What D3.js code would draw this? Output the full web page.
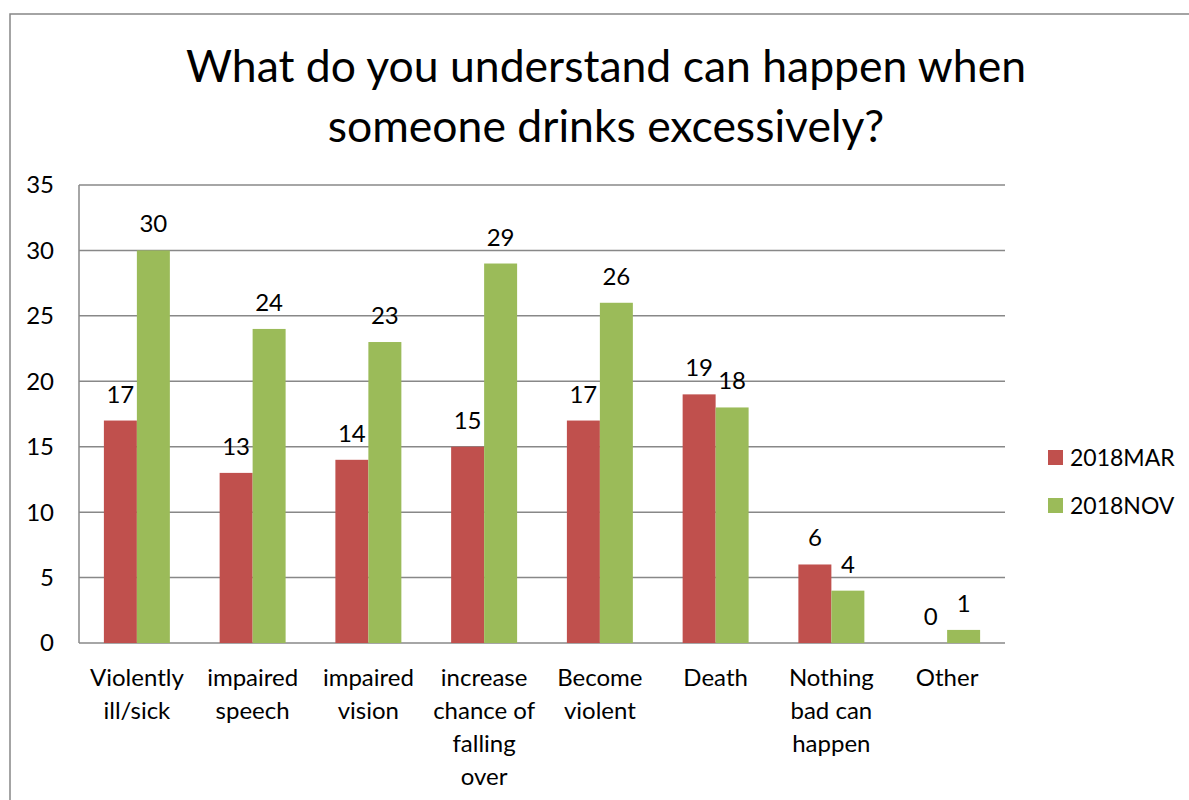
<!DOCTYPE html>
<html><head><meta charset="utf-8">
<script src="https://cdn.jsdelivr.net/npm/d3@7"></script>
<style>html,body{margin:0;padding:0;background:#fff;}svg{display:block;font-family:Lato,"Open Sans",sans-serif;}</style>
</head><body>
<script>
const categories = ["Violently ill/sick","impaired speech","impaired vision","increase chance of falling over","Become violent","Death","Nothing bad can happen","Other"];
const categoryLines = [["Violently","ill/sick"],["impaired","speech"],["impaired","vision"],["increase","chance of","falling","over"],["Become","violent"],["Death"],["Nothing","bad can","happen"],["Other"]];
const seriesNames = ["2018MAR","2018NOV"];
const mar = [17,13,14,15,17,19,6,0];
const nov = [30,24,23,29,26,18,4,1];
const yTicks = [0,5,10,15,20,25,30,35];
const titleLines = ["What do you understand can happen when","someone drinks excessively?"];
const colors = ["#C0504D","#9BBB59"];

(function(){
const W=1189,H=800;
const svg=d3.select("body").append("svg").attr("width",W).attr("height",H);
svg.append("rect").attr("x",10).attr("y",14).attr("width",W).attr("height",H).attr("fill","#fff").attr("stroke","#878787").attr("stroke-width",1.5);

const pL=79,pR=1005,pT=185,pB=643;
const x=d3.scaleBand().domain(categories).range([pL,pR]).paddingInner(0.43).paddingOuter(0.215);
const y=d3.scaleLinear().domain([0,35]).range([pB,pT]);
const xs=d3.scaleBand().domain(seriesNames).range([0,x.bandwidth()]);

svg.append("g").selectAll("line").data(yTicks).join("line")
 .attr("x1",pL).attr("x2",pR).attr("y1",d=>y(d)).attr("y2",d=>y(d))
 .attr("stroke","#888").attr("stroke-width",1.5);
svg.append("line").attr("x1",pL).attr("x2",pL).attr("y1",pT).attr("y2",pB).attr("stroke","#888").attr("stroke-width",1.5);

svg.append("g").selectAll("text").data(yTicks).join("text")
 .attr("x",54).attr("y",d=>y(d)).attr("dy","0.35em").attr("text-anchor","end")
 .attr("font-size",24).attr("fill","#000").text(d=>d);

const series=[mar,nov];
series.forEach((vals,si)=>{
  const g=svg.append("g");
  g.selectAll("rect").data(vals).join("rect")
   .attr("x",(d,i)=>x(categories[i])+xs(seriesNames[si]))
   .attr("width",xs.bandwidth())
   .attr("y",d=>y(d)).attr("height",d=>pB-y(d)).attr("fill",colors[si]);
  g.selectAll("text").data(vals).join("text")
   .attr("x",(d,i)=>x(categories[i])+xs(seriesNames[si])+xs.bandwidth()/2)
   .attr("y",d=>y(d)-18).attr("text-anchor","middle").attr("font-size",24).attr("fill","#000").text(d=>d);
});

const xl=svg.append("g");
categories.forEach((c,i)=>{
  const t=xl.append("text").attr("text-anchor","middle").attr("font-size",24).attr("fill","#000");
  categoryLines[i].forEach((ln,j)=>{
    t.append("tspan").attr("x",x(c)+x.bandwidth()/2).attr("y",686+j*33).text(ln);
  });
});

svg.append("g").selectAll("text").data(titleLines).join("text")
 .attr("x",606).attr("y",(d,i)=>82+i*60).attr("text-anchor","middle").attr("font-size",44.5).attr("fill","#000").text(d=>d);

const lg=svg.append("g");
seriesNames.forEach((s,i)=>{
  lg.append("rect").attr("x",1048).attr("y",450+i*48).attr("width",15).attr("height",15).attr("fill",colors[i]);
  lg.append("text").attr("x",1070).attr("y",457.5+i*48).attr("dy","0.35em").attr("font-size",23).attr("fill","#000").text(s);
});
})();
</script>
</body></html>
